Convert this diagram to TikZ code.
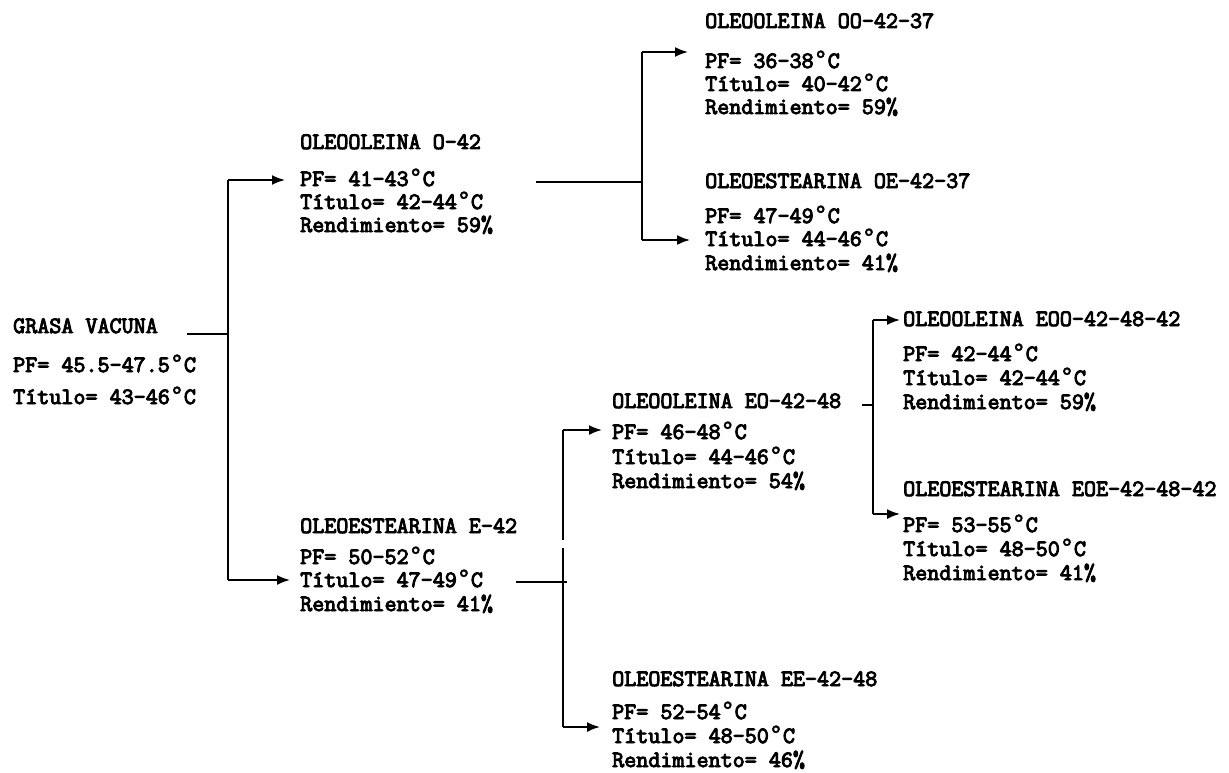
\documentclass[tikz,border=0pt]{standalone}
\usepackage{fontspec}
\usetikzlibrary{arrows.meta}
\newfontfamily\tw[FakeBold=4]{Latin Modern Mono}
\newfontfamily\dgfont[FakeBold=2]{DejaVu Sans Mono}
\newcommand{\dg}{{\dgfont °}}
\tikzset{
  t/.style={anchor=base west, inner sep=0pt, font=\tw\fontsize{23.4}{26}\selectfont},
  ln/.style={line width=1.8pt},
  arr/.style={line width=1.8pt, -{Latex[length=13pt,width=10pt]}}
}
\begin{document}
\begin{tikzpicture}[x=1pt,y=-1pt]
\useasboundingbox[fill=white] (0,0) rectangle (1229,773);
% GRASA VACUNA
\node[t] (g0) at (13,333) {GRASA VACUNA};
\node[t] (g1) at (13,372) {PF= 45.5-47.5\dg C};
\node[t] (g2) at (13,404) {Título= 43-46\dg C};
% O-42
\node[t] (a0) at (300,149) {OLEOOLEINA O-42};
\node[t] (a1) at (300,186) {PF= 41-43\dg C};
\node[t] (a2) at (300,209) {Título= 42-44\dg C};
\node[t] (a3) at (300,232) {Rendimiento= 59\%};
% OO-42-37
\node[t] (b0) at (705,28) {OLEOOLEINA OO-42-37};
\node[t] (b1) at (705,68) {PF= 36-38\dg C};
\node[t] (b2) at (705,91) {Título= 40-42\dg C};
\node[t] (b3) at (705,114) {Rendimiento= 59\%};
% OE-42-37
\node[t] (c0) at (705,188) {OLEOESTEARINA OE-42-37};
\node[t] (c1) at (705,223) {PF= 47-49\dg C};
\node[t] (c2) at (705,246) {Título= 44-46\dg C};
\node[t] (c3) at (705,270) {Rendimiento= 41\%};
% E-42
\node[t] (d0) at (300,533) {OLEOESTEARINA E-42};
\node[t] (d1) at (300,564) {PF= 50-52\dg C};
\node[t] (d2) at (300,587) {Título= 47-49\dg C};
\node[t] (d3) at (300,611) {Rendimiento= 41\%};
% EO-42-48
\node[t] (e0) at (612,408) {OLEOOLEINA EO-42-48};
\node[t] (e1) at (612,439) {PF= 46-48\dg C};
\node[t] (e2) at (612,464) {Título= 44-46\dg C};
\node[t] (e3) at (612,488) {Rendimiento= 54\%};
% EE-42-48
\node[t] (f0) at (612,686) {OLEOESTEARINA EE-42-48};
\node[t] (f1) at (612,719) {PF= 52-54\dg C};
\node[t] (f2) at (612,743) {Título= 48-50\dg C};
\node[t] (f3) at (612,767) {Rendimiento= 46\%};
% EOO
\node[t] (h0) at (903,326) {OLEOOLEINA EOO-42-48-42};
\node[t] (h1) at (903,361) {PF= 42-44\dg C};
\node[t] (h2) at (903,385) {Título= 42-44\dg C};
\node[t] (h3) at (903,409) {Rendimiento= 59\%};
% EOE
\node[t] (k0) at (903,496) {OLEOESTEARINA EOE-42-48-42};
\node[t] (k1) at (903,532) {PF= 53-55\dg C};
\node[t] (k2) at (903,556) {Título= 48-50\dg C};
\node[t] (k3) at (903,580) {Rendimiento= 41\%};

% connectors level 1
\coordinate (s0) at (187,334);
\coordinate (j0) at (228,334);
\coordinate (j0t) at (228,180);
\coordinate (j0b) at (228,580);
\draw[ln] (s0) -- (j0);
\draw[ln] (j0t) -- (j0b);
\draw[arr] (j0t) -- ([xshift=-15pt]a1.west |- j0t);
\draw[arr] (j0b) -- ([xshift=-10pt]d2.west |- j0b);

% from O-42
\coordinate (s1) at (536,182);
\coordinate (j1) at (642,182);
\coordinate (j1t) at (642,52);
\coordinate (j1b) at (642,240);
\draw[ln] (s1) -- (j1);
\draw[ln] (j1t) -- (j1b);
\draw[arr] (j1t) -- ([xshift=-17pt]b1.west |- j1t);
\draw[arr] (j1b) -- ([xshift=-15pt]c2.west |- j1b);

% from E-42
\coordinate (s2) at (516,582);
\coordinate (j2) at (563,582);
\coordinate (j2t) at (563,430);
\coordinate (j2b) at (563,727);
\draw[ln] (s2) -- ([xshift=4pt]j2);
\draw[ln] (j2t) -- (563,540);
\draw[ln] (563,548) -- (j2b);
\draw[arr] (j2t) -- ([xshift=-10pt]e1.west |- j2t);
\draw[arr] (j2b) -- ([xshift=-12pt]f1.west |- j2b);

% from EO-42-48
\coordinate (s3) at (862,405);
\coordinate (j3) at (873,405);
\coordinate (j3t) at (873,320);
\coordinate (j3b) at (873,514);
\draw[ln] (s3) -- (j3);
\draw[ln] (j3t) -- (j3b);
\draw[arr] (j3t) -- ([xshift=-3pt]h0.west |- j3t);
\draw[arr] (j3b) -- ([xshift=-3pt]k1.west |- j3b);
\end{tikzpicture}
\end{document}
